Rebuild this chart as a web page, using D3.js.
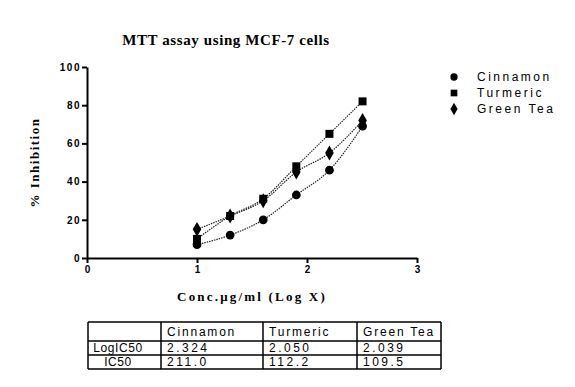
<!DOCTYPE html>
<html>
<head>
<meta charset="utf-8">
<script src="https://cdn.jsdelivr.net/npm/d3@7"></script>
<style>
  body { margin: 0; background: #fff; }
  svg { display: block; }
</style>
</head>
<body>
<svg id="chart" width="575" height="387"></svg>
<script>
"use strict";

// data
const logConc = [1.0, 1.301, 1.602, 1.903, 2.204, 2.505];
const seriesNames = ["Cinnamon", "Turmeric", "Green Tea"];
const cinnamon = [7, 12, 20, 33, 46, 69];
const turmeric = [10, 22, 31, 48, 65, 82];
const greenTea = [15, 22, 30, 45, 55, 72];
const xTicks = [0, 1, 2, 3];
const yTicks = [0, 20, 40, 60, 80, 100];
const tableRows = ["LogIC50", "IC50"];
const logIC50 = ["2.324", "2.050", "2.039"];
const ic50 = ["211.0", "112.2", "109.5"];

const series = [cinnamon, turmeric, greenTea];
const symbols = [d3.symbolCircle, d3.symbolSquare, d3.symbolDiamond];
const symbolSize = [60, 64, 64];

// consts
const plot = { left: 87, right: 417, top: 67, bottom: 258 };

let svg = d3.select("#chart");

// scales
let scaleX = d3.scaleLinear().domain([0, 3]).range([plot.left, plot.right]);
let scaleY = d3.scaleLinear().domain([0, 100]).range([plot.bottom, plot.top]);

// title
svg.append("text")
  .attr("x", 226).attr("y", 45)
  .attr("text-anchor", "middle")
  .style("font", "bold 15px 'Liberation Serif', serif")
  .style("letter-spacing", "0.6px")
  .text("MTT assay using MCF-7 cells");

// y axis
let yAxis = svg.append("g")
  .attr("transform", `translate(${plot.left}, 0)`)
  .call(d3.axisLeft(scaleY).tickValues(yTicks).tickSize(5).tickSizeOuter(0));

// x axis
let xAxis = svg.append("g")
  .attr("transform", `translate(0, ${plot.bottom})`)
  .call(d3.axisBottom(scaleX).tickValues(xTicks).tickSize(5).tickSizeOuter(0).tickFormat(d3.format("d")));

[yAxis, xAxis].forEach(a => {
  a.select(".domain").attr("stroke", "#000").attr("stroke-width", 2);
  a.selectAll(".tick line").attr("stroke", "#000").attr("stroke-width", 2);
  a.selectAll(".tick text")
    .style("font", "bold 10px 'Liberation Sans', Arial, sans-serif")
    .style("letter-spacing", "1.5px")
    .attr("fill", "#000");
});
yAxis.selectAll(".tick text").attr("x", -6);
xAxis.selectAll(".tick text").attr("y", 8).attr("dx", "0.75px");

// axis labels
svg.append("text")
  .attr("transform", `translate(39, ${(plot.top + plot.bottom) / 2}) rotate(-90)`)
  .attr("text-anchor", "middle")
  .style("font", "bold 13px 'Liberation Serif', serif")
  .style("letter-spacing", "1.5px")
  .text("% Inhibition");

svg.append("text")
  .attr("x", 252).attr("y", 301)
  .attr("text-anchor", "middle")
  .style("font", "bold 13px 'Liberation Serif', serif")
  .style("letter-spacing", "2.2px")
  .text("Conc.\u03BCg/ml (Log X)");

// curves
let line = d3.line()
  .x((d, i) => scaleX(logConc[i]))
  .y(d => scaleY(d))
  .curve(d3.curveMonotoneX);

series.forEach((s, k) => {
  svg.append("path")
    .attr("d", line(s))
    .attr("fill", "none")
    .attr("stroke", "#222")
    .attr("stroke-width", 1.2)
    .attr("stroke-dasharray", "1.5,1");
});

// markers
series.forEach((s, k) => {
  svg.append("g")
    .selectAll("path")
    .data(s)
    .enter()
    .append("path")
    .attr("transform", (d, i) => `translate(${scaleX(logConc[i])}, ${scaleY(d)})`)
    .attr("d", d3.symbol().type(symbols[k]).size(symbolSize[k]))
    .attr("fill", "#000");
});

// legend
let legend = svg.append("g").attr("transform", "translate(454, 77)");
seriesNames.forEach((name, k) => {
  let g = legend.append("g").attr("transform", `translate(0, ${k * 16})`);
  g.append("path")
    .attr("d", d3.symbol().type(symbols[k]).size(symbolSize[k] * 0.7))
    .attr("fill", "#000");
  g.append("text")
    .attr("x", 23).attr("y", 4)
    .style("font", "12px 'Liberation Sans', Arial, sans-serif")
    .style("letter-spacing", "2.5px")
    .text(name);
});

// table
const colX = [88, 161, 263, 357, 441];
const rowY = [322, 341, 355, 369];
let table = svg.append("g");
rowY.forEach(y => {
  table.append("line")
    .attr("x1", colX[0]).attr("x2", colX[colX.length - 1])
    .attr("y1", y).attr("y2", y)
    .attr("stroke", "#000").attr("stroke-width", 1.5);
});
colX.forEach(x => {
  table.append("line")
    .attr("x1", x).attr("x2", x)
    .attr("y1", rowY[0]).attr("y2", rowY[rowY.length - 1])
    .attr("stroke", "#000").attr("stroke-width", 1.5);
});
const cellFont = "12px 'Liberation Sans', Arial, sans-serif";
seriesNames.forEach((name, k) => {
  table.append("text")
    .attr("x", colX[k + 1] + 6).attr("y", rowY[0] + 14)
    .style("font", cellFont)
    .style("letter-spacing", "1.8px")
    .text(name);
});
[logIC50, ic50].forEach((vals, r) => {
  table.append("text")
    .attr("x", 118).attr("y", rowY[r + 1] + 11)
    .attr("text-anchor", "middle")
    .style("font", cellFont)
    .style("letter-spacing", "0.6px")
    .text(tableRows[r]);
  vals.forEach((v, k) => {
    table.append("text")
      .attr("x", colX[k + 1] + 6).attr("y", rowY[r + 1] + 11)
      .style("font", cellFont)
      .style("letter-spacing", "2.5px")
      .text(v);
  });
});
</script>
</body>
</html>
